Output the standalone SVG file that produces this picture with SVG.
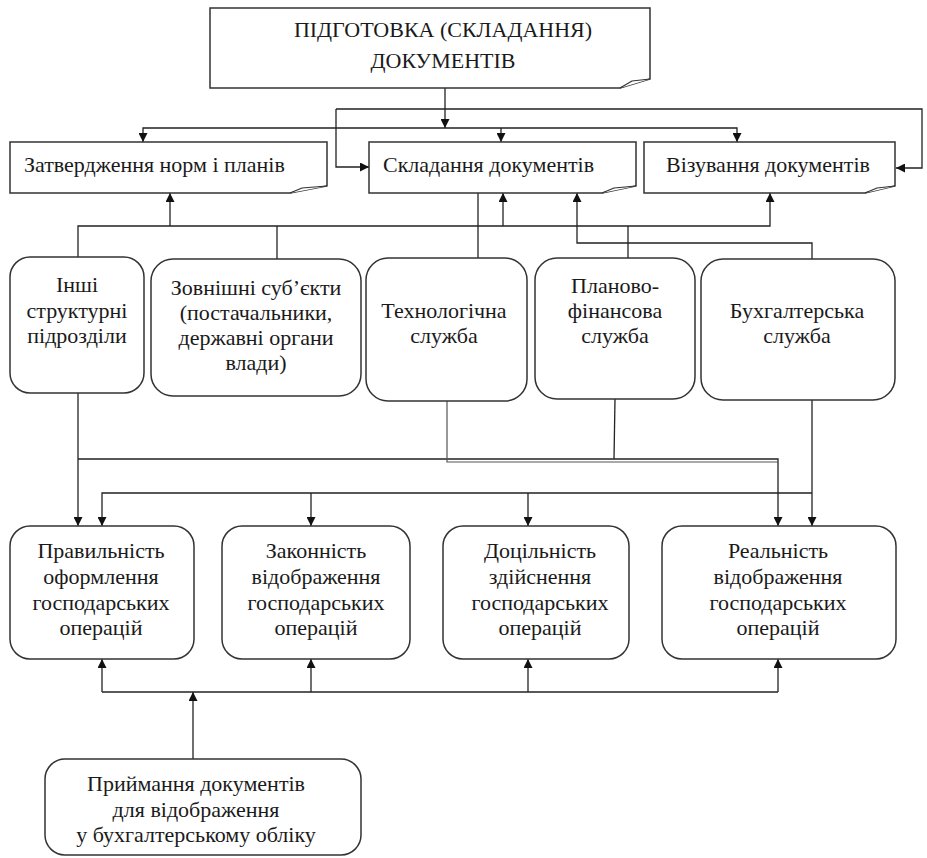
<svg xmlns="http://www.w3.org/2000/svg" width="927" height="858" viewBox="0 0 927 858">
  <style>
    .box { fill: #fff; stroke: #333; stroke-width: 1.5; }
    .flap { fill: #fff; stroke: #333; stroke-width: 1.2; stroke-linejoin: round; }
    .ln { fill: none; stroke: #222; stroke-width: 1.3; }
    .ln2 { fill: none; stroke: #555; stroke-width: 1.2; }
    .t { font-family: "Liberation Serif", "Times New Roman", serif; font-size: 22px; fill: #1a1a1a; }
    .c { text-anchor: middle; }
  </style>
  <defs>
    <marker id="arr" viewBox="0 0 10 10" refX="10" refY="5" markerWidth="9" markerHeight="9" markerUnits="userSpaceOnUse" orient="auto">
      <path d="M0,0 L10,5 L0,10 z" fill="#111"/>
    </marker>
  </defs>

  <rect width="927" height="858" fill="#fff"/>

  <!-- connectors -->
  <g id="connectors">
    <!-- from title box -->
    <path class="ln" d="M445,88 V128" marker-end="url(#arr)"/>
    <path class="ln" d="M445,128 H143 V142" marker-end="url(#arr)"/>
    <path class="ln" d="M445,128 H737 V142" marker-end="url(#arr)"/>
    <path class="ln" d="M501,128 V142" marker-end="url(#arr)"/>
    <path class="ln" d="M336,109 V167 H369" marker-end="url(#arr)"/>
    <path class="ln" d="M336,109 H922 V168 H896" marker-end="url(#arr)"/>

    <!-- services up to document stages -->
    <path class="ln" d="M78,258 V226 H770 V193" marker-end="url(#arr)"/>
    <path class="ln" d="M170,226 V193" marker-end="url(#arr)"/>
    <path class="ln" d="M503,226 V193" marker-end="url(#arr)"/>
    <path class="ln" d="M277,259 V226"/>
    <path class="ln" d="M628,258 V226"/>
    <path class="ln" d="M478,193 V258"/>
    <path class="ln" d="M812,259 V243 H577 V193" marker-end="url(#arr)"/>

    <!-- services down to checks -->
    <path class="ln" d="M78,393 V526" marker-end="url(#arr)"/>
    <path class="ln" d="M78,459 H778 V526" marker-end="url(#arr)"/>
    <path class="ln2" d="M447,401 V462 H778"/>
    <path class="ln" d="M615,399 L614,459"/>
    <path class="ln" d="M812,393 V526" marker-end="url(#arr)"/>
    <path class="ln" d="M812,493 H102 V526" marker-end="url(#arr)"/>
    <path class="ln" d="M311,493 V526" marker-end="url(#arr)"/>
    <path class="ln" d="M528,493 V526" marker-end="url(#arr)"/>

    <!-- acceptance up to checks -->
    <path class="ln" d="M102,692 H778"/>
    <path class="ln" d="M102,692 V659" marker-end="url(#arr)"/>
    <path class="ln" d="M311,692 V659" marker-end="url(#arr)"/>
    <path class="ln" d="M528,692 V659" marker-end="url(#arr)"/>
    <path class="ln" d="M778,692 V659" marker-end="url(#arr)"/>
    <path class="ln" d="M193,759 V692" marker-end="url(#arr)"/>
  </g>

  <!-- title -->
  <g id="n-title">
    <path class="box" d="M210,8 H650 V79 L620,88 H210 Z"/>
    <path class="flap" d="M620,88 L632,81 L650,79"/>
    <text class="t c" x="443" y="37">ПІДГОТОВКА (СКЛАДАННЯ)</text>
    <text class="t c" x="443" y="68">ДОКУМЕНТІВ</text>
  </g>

  <!-- document stages -->
  <g id="n-approve">
    <path class="box" d="M10,142 H327 V186 L290,193 H10 Z"/>
    <path class="flap" d="M290,193 L302,188 L327,186"/>
    <text class="t" x="24" y="172">Затвердження норм і планів</text>
  </g>
  <g id="n-compose">
    <path class="box" d="M369,142 H636 V186 L602,193 H369 Z"/>
    <path class="flap" d="M602,193 L614,188 L636,186"/>
    <text class="t" x="383" y="172">Складання документів</text>
  </g>
  <g id="n-visa">
    <path class="box" d="M644,142 H895 V186 L865,193 H644 Z"/>
    <path class="flap" d="M865,193 L877,188 L895,186"/>
    <text class="t" x="666" y="172">Візування документів</text>
  </g>

  <!-- services -->
  <g id="n-other">
    <rect class="box" x="10" y="257" width="134" height="136" rx="20"/>
    <text class="t c" x="77" y="292">Інші</text>
    <text class="t c" x="77" y="318">структурні</text>
    <text class="t c" x="77" y="343">підрозділи</text>
  </g>
  <g id="n-external">
    <rect class="box" x="151" y="259" width="210" height="137" rx="22"/>
    <text class="t c" x="256" y="295">Зовнішні суб’єкти</text>
    <text class="t c" x="256" y="320">(постачальники,</text>
    <text class="t c" x="256" y="345">державні органи</text>
    <text class="t c" x="256" y="370">влади)</text>
  </g>
  <g id="n-tech">
    <rect class="box" x="366" y="258" width="161" height="143" rx="22"/>
    <text class="t c" x="444" y="318">Технологічна</text>
    <text class="t c" x="444" y="343">служба</text>
  </g>
  <g id="n-plan">
    <rect class="box" x="535" y="258" width="160" height="141" rx="22"/>
    <text class="t c" x="615" y="293">Планово-</text>
    <text class="t c" x="615" y="318">фінансова</text>
    <text class="t c" x="615" y="343">служба</text>
  </g>
  <g id="n-acc">
    <rect class="box" x="701" y="259" width="194" height="141" rx="22"/>
    <text class="t c" x="797" y="318">Бухгалтерська</text>
    <text class="t c" x="797" y="343">служба</text>
  </g>

  <!-- checks -->
  <g id="n-correct">
    <rect class="box" x="10" y="526" width="184" height="133" rx="20"/>
    <text class="t c" x="101" y="558">Правильність</text>
    <text class="t c" x="101" y="584">оформлення</text>
    <text class="t c" x="101" y="610">господарських</text>
    <text class="t c" x="101" y="635">операцій</text>
  </g>
  <g id="n-legal">
    <rect class="box" x="222" y="526" width="188" height="133" rx="20"/>
    <text class="t c" x="316" y="558">Законність</text>
    <text class="t c" x="316" y="584">відображення</text>
    <text class="t c" x="316" y="610">господарських</text>
    <text class="t c" x="316" y="635">операцій</text>
  </g>
  <g id="n-expedient">
    <rect class="box" x="443" y="526" width="186" height="133" rx="20"/>
    <text class="t c" x="540" y="558">Доцільність</text>
    <text class="t c" x="540" y="584">здійснення</text>
    <text class="t c" x="540" y="610">господарських</text>
    <text class="t c" x="540" y="635">операцій</text>
  </g>
  <g id="n-real">
    <rect class="box" x="662" y="526" width="234" height="133" rx="20"/>
    <text class="t c" x="778" y="558">Реальність</text>
    <text class="t c" x="778" y="584">відображення</text>
    <text class="t c" x="778" y="610">господарських</text>
    <text class="t c" x="778" y="635">операцій</text>
  </g>

  <!-- acceptance -->
  <g id="n-accept">
    <rect class="box" x="45" y="759" width="316" height="96" rx="20"/>
    <text class="t c" x="196" y="791">Приймання документів</text>
    <text class="t c" x="196" y="817">для відображення</text>
    <text class="t c" x="196" y="842">у бухгалтерському обліку</text>
  </g>
</svg>
